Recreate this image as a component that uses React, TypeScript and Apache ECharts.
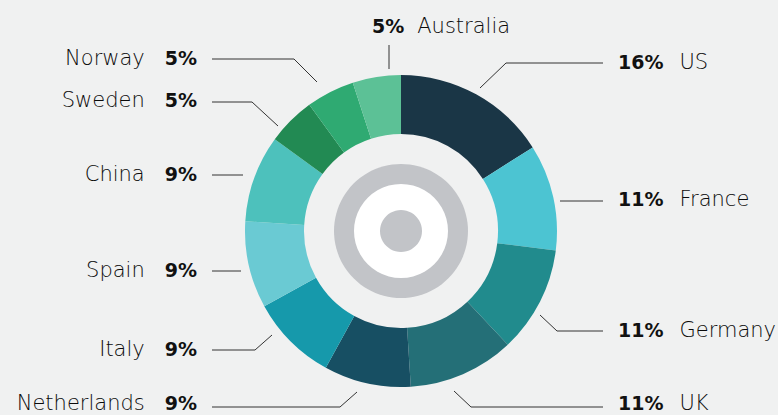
import React, { useEffect, useRef } from "react";
import * as echarts from "echarts";

const countries = ["US", "France", "Germany", "UK", "Netherlands", "Italy", "Spain", "China", "Sweden", "Norway", "Australia"];
const values = [16, 11, 11, 11, 9, 9, 9, 9, 5, 5, 5];
const colors = ["#1a3646", "#4cc4d2", "#218b8d", "#246f77", "#174f63", "#1699ab", "#6acad3", "#4dc1bc", "#228a53", "#2faa72", "#5cc196"];

// label placement: [textX, textY, side, line points]
const layout: { x: number; y: number; side: "l" | "r" | "t"; pts: number[][] }[] = [
  { x: 618, y: 62, side: "r", pts: [[480, 88], [506, 63], [603, 63]] },
  { x: 618, y: 199, side: "r", pts: [[560, 201], [580, 201], [603, 201]] },
  { x: 618, y: 330, side: "r", pts: [[540, 315], [557, 331], [603, 331]] },
  { x: 618, y: 403, side: "r", pts: [[454, 391], [471, 407], [603, 407]] },
  { x: 197, y: 403, side: "l", pts: [[357, 392], [340, 407], [212, 407]] },
  { x: 197, y: 349, side: "l", pts: [[272, 335], [255, 350], [212, 350]] },
  { x: 197, y: 270, side: "l", pts: [[241, 271], [225, 271], [212, 271]] },
  { x: 197, y: 174, side: "l", pts: [[243, 175], [225, 175], [212, 175]] },
  { x: 197, y: 100, side: "l", pts: [[278, 126], [252, 102], [212, 102]] },
  { x: 197, y: 58, side: "l", pts: [[317, 82], [294, 59], [212, 59]] },
  { x: 372, y: 26, side: "t", pts: [[389, 69], [389, 57], [389, 45]] },
];

const FONT = "DejaVu Sans";

export default function App() {
  const ref = useRef<HTMLDivElement>(null);
  useEffect(() => {
    if (!ref.current) return;
    const chart = echarts.init(ref.current, undefined, { renderer: "svg" });
    const cx = 401, cy = 231;
    chart.setOption({
      animation: false,
      backgroundColor: "#f0f1f1",
      series: [
        {
          type: "pie",
          center: [cx, cy],
          radius: [97, 156],
          startAngle: 90,
          clockwise: true,
          silent: true,
          data: countries.map((c, i) => ({ name: c, value: values[i], itemStyle: { color: colors[i] } })),
          label: {
            show: true,
            formatter: (p: any) => {
              const side = layout[p.dataIndex].side;
              if (side === "l") return `{nl|${p.name}}{p|${p.value}%}`;
              if (side === "t") return `{pt|${p.value}%}{n|${p.name}}`;
              return `{pr|${p.value}%}{n|${p.name}}`;
            },
            rich: {
              n: { fontFamily: FONT, fontSize: 21, fontWeight: 200, color: "#0a0a0a" },
              nl: { fontFamily: FONT, fontSize: 21, fontWeight: 200, color: "#0a0a0a", padding: [0, 20, 0, 0] },
              p: { fontFamily: FONT, fontSize: 19, fontWeight: "bold", color: "#111" },
              pr: { fontFamily: FONT, fontSize: 19, fontWeight: "bold", color: "#111", padding: [0, 16, 0, 0] },
              pt: { fontFamily: FONT, fontSize: 19, fontWeight: "bold", color: "#111", padding: [0, 13, 0, 0] },
            },
          },
          labelLine: { show: true, lineStyle: { color: "#333", width: 1 } },
          labelLayout: (params: any) => {
            const l = layout[params.dataIndex];
            return {
              x: l.x,
              y: l.y,
              align: l.side === "l" ? "right" : "left",
              verticalAlign: "middle",
              labelLinePoints: l.pts,
            };
          },
        },
      ],
      graphic: [
        { type: "circle", shape: { cx, cy, r: 67 }, style: { fill: "#c2c4c8" } },
        { type: "circle", shape: { cx, cy, r: 47 }, style: { fill: "#ffffff" } },
        { type: "circle", shape: { cx, cy, r: 21 }, style: { fill: "#c2c4c8" } },
      ],
    });
    return () => chart.dispose();
  }, []);
  return <div ref={ref} style={{ position: "absolute", left: 0, top: 0, width: 778, height: 415 }} />;
}
